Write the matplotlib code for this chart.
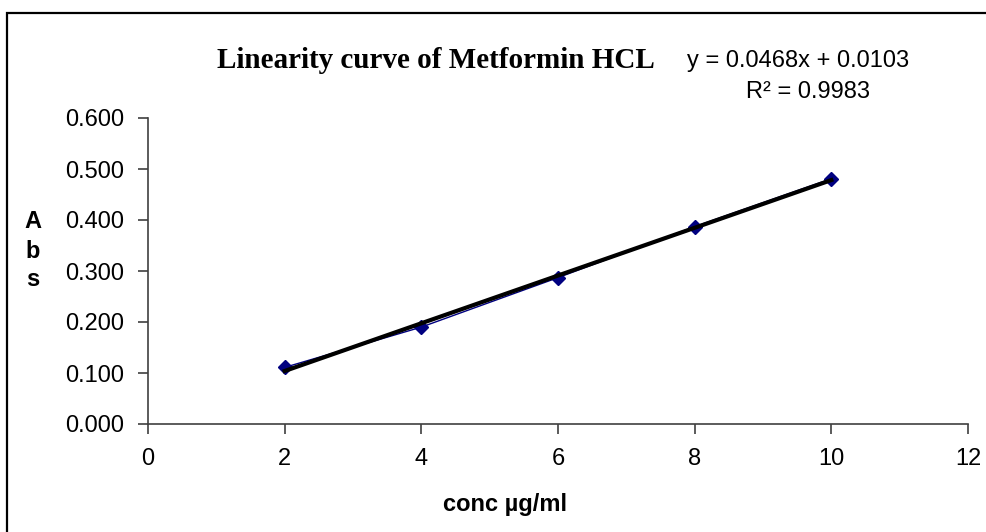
import numpy as np
import matplotlib.pyplot as plt
from matplotlib.patches import Rectangle

# calibration data
conc = [2, 4, 6, 8, 10]
absorb = [0.111, 0.190, 0.287, 0.387, 0.481]
slope = 0.0468
intercept = 0.0103
r2 = 0.9983
xticks = [0, 2, 4, 6, 8, 10, 12]
yticks = [0.0, 0.1, 0.2, 0.3, 0.4, 0.5, 0.6]

fig = plt.figure(figsize=(9.87, 5.32), dpi=100)
ax = fig.add_axes([148/987, 1-424/532, (968-148)/987, (424-118)/532])

# outer chart frame (cropped on right and bottom)
fig.patches.append(Rectangle((7/987, -0.1), 1.2, 1-13/532+0.1, transform=fig.transFigure,
                             fill=False, edgecolor='black', lw=1.6))

ax.plot(conc, absorb, color='#000080', lw=1, marker='D', ms=7, zorder=2)
xf = np.array([conc[0], conc[-1]])
ax.plot(xf, slope*xf + intercept, color='black', lw=3, zorder=3)

ax.set_xlim(0, 12)
ax.set_ylim(0, 0.6)
ax.set_xticks(xticks)
ax.set_yticks(yticks)
ax.set_yticklabels(['%.3f' % v for v in yticks])
for s in ['top', 'right']:
    ax.spines[s].set_visible(False)
for s in ['left', 'bottom']:
    ax.spines[s].set_color('#404040')
    ax.spines[s].set_linewidth(1.2)
ax.tick_params(direction='out', length=7, width=1.2, color='#404040', labelsize=17, pad=10)
for lab in ax.get_xticklabels() + ax.get_yticklabels():
    lab.set_family('Liberation Sans')

fig.text(655/987, 1-61/532, 'Linearity curve of Metformin HCL', family='Liberation Serif',
         weight='bold', fontsize=21, ha='right', va='center')
fig.text(687/987, 1-61/532, 'y = %.4fx + %.4f' % (slope, intercept), family='Liberation Sans',
         fontsize=17, ha='left', va='center')
fig.text(870/987, 1-92/532, 'R² = %.4f' % r2, family='Liberation Sans',
         fontsize=17, ha='right', va='center')
for lab, yy in zip('Abs', [221, 252, 280]):
    fig.text(33/987, 1-yy/532, lab, family='Liberation Sans', weight='bold',
             fontsize=17, ha='center', va='center')
fig.text(505/987, 1-505/532, 'conc µg/ml', family='Liberation Sans', weight='bold',
         fontsize=17, ha='center', va='center')

fig.savefig('out.png', dpi=100)
